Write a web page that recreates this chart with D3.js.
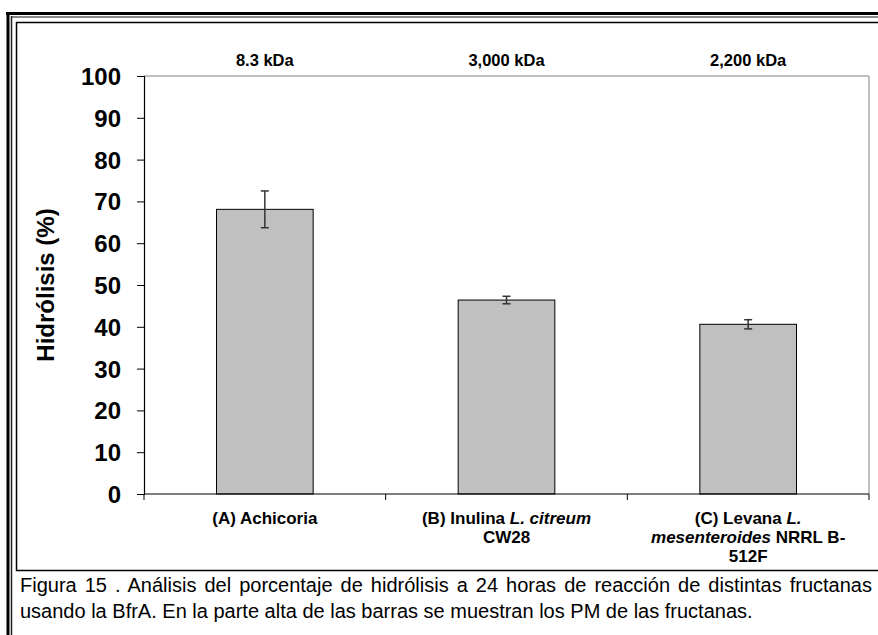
<!DOCTYPE html>
<html>
<head>
<meta charset="utf-8">
<script src="https://cdn.jsdelivr.net/npm/d3@7"></script>
<style>
  html, body { margin: 0; padding: 0; background: #fff; }
  svg { display: block; }
</style>
</head>
<body>
<svg id="fig" width="878" height="635"></svg>
<script>
// Hydrolysis (%) after 24 h of BfrA reaction on different fructans
const categories = ["A", "B", "C"];
const categoryLines = [
  [[{ t: "(A) Achicoria" }]],
  [[{ t: "(B) Inulina " }, { t: "L. citreum", i: true }], [{ t: "CW28" }]],
  [[{ t: "(C) Levana " }, { t: "L.", i: true }],
   [{ t: "mesenteroides", i: true }, { t: " NRRL B-" }],
   [{ t: "512F" }]]
];
const hydrolysis = [68.1, 46.4, 40.6];
const errors = [4.4, 0.9, 1.1];
const molecularWeights = ["8.3 kDa", "3,000 kDa", "2,200 kDa"];
const yTicks = [0, 10, 20, 30, 40, 50, 60, 70, 80, 90, 100];
const yTitle = "Hidrólisis (%)";
const captionLines = [
  "Figura 15 . Análisis del porcentaje de hidrólisis a 24 horas de reacción de distintas fructanas",
  "usando la BfrA. En la parte alta de las barras se muestran los PM de las fructanas."
];

const FONT = "'Liberation Sans', Arial, Helvetica, sans-serif";
const svg = d3.select("#fig");

// Page frame: heavy outer rule with a thin companion, and the inner figure box
const frame = svg.append("g");
frame.append("line").attr("x1", 6).attr("x2", 878).attr("y1", 13.5).attr("y2", 13.5)
  .attr("stroke", "#000").attr("stroke-width", 3);
frame.append("line").attr("x1", 8).attr("x2", 8).attr("y1", 12).attr("y2", 635)
  .attr("stroke", "#000").attr("stroke-width", 3);
frame.append("line").attr("x1", 11).attr("x2", 878).attr("y1", 17).attr("y2", 17)
  .attr("stroke", "#888").attr("stroke-width", 2);
frame.append("line").attr("x1", 11.5).attr("x2", 11.5).attr("y1", 16).attr("y2", 635)
  .attr("stroke", "#222").attr("stroke-width", 1.5);
frame.append("path").attr("d", "M880,22.5 H16.5 V570.5 H880")
  .attr("fill", "none").attr("stroke", "#000").attr("stroke-width", 1.5);

// Plot area
const plot = { left: 144, right: 869, top: 76, bottom: 494 };

const x = d3.scaleBand().domain(categories).range([plot.left, plot.right])
  .paddingInner(0.6).paddingOuter(0.3);
const xb = d3.scaleBand().domain(categories).range([plot.left, plot.right]);
const y = d3.scaleLinear().domain([0, 100]).range([plot.bottom, plot.top]);

const g = svg.append("g");

// plot area outline (top and right)
g.append("path")
  .attr("d", `M${plot.left},${plot.top} H${plot.right} V${plot.bottom}`)
  .attr("fill", "none").attr("stroke", "#808080").attr("stroke-width", 1);

// bars
g.selectAll("rect.bar").data(categories).join("rect")
  .attr("class", "bar")
  .attr("x", d => x(d))
  .attr("width", x.bandwidth())
  .attr("y", (d, i) => y(hydrolysis[i]))
  .attr("height", (d, i) => y(0) - y(hydrolysis[i]))
  .attr("fill", "#c0c0c0").attr("stroke", "#000").attr("stroke-width", 1);

// error bars
const eb = g.selectAll("g.err").data(categories).join("g").attr("class", "err")
  .attr("stroke", "#333").attr("stroke-width", 1.5);
eb.append("line")
  .attr("x1", d => x(d) + x.bandwidth() / 2).attr("x2", d => x(d) + x.bandwidth() / 2)
  .attr("y1", (d, i) => y(hydrolysis[i] + errors[i]))
  .attr("y2", (d, i) => y(hydrolysis[i] - errors[i]));
eb.append("line")
  .attr("x1", d => x(d) + x.bandwidth() / 2 - 4).attr("x2", d => x(d) + x.bandwidth() / 2 + 4)
  .attr("y1", (d, i) => y(hydrolysis[i] + errors[i]))
  .attr("y2", (d, i) => y(hydrolysis[i] + errors[i]));
eb.append("line")
  .attr("x1", d => x(d) + x.bandwidth() / 2 - 4).attr("x2", d => x(d) + x.bandwidth() / 2 + 4)
  .attr("y1", (d, i) => y(hydrolysis[i] - errors[i]))
  .attr("y2", (d, i) => y(hydrolysis[i] - errors[i]));

// y axis
const yAxis = g.append("g").attr("transform", `translate(${plot.left},0)`)
  .call(d3.axisLeft(y).tickValues(yTicks).tickSize(7).tickPadding(16));
yAxis.select(".domain").attr("stroke", "#000").attr("stroke-width", 1.2);
yAxis.selectAll(".tick line").attr("stroke", "#000").attr("stroke-width", 1);
yAxis.selectAll(".tick text")
  .attr("font-family", FONT).attr("font-size", 24).attr("font-weight", "bold")
  .attr("fill", "#000").attr("dy", "0.35em");

// x axis: boundary ticks between categories
const boundaries = categories.map(c => xb(c)).concat([plot.right]);
g.append("line").attr("x1", plot.left).attr("x2", plot.right)
  .attr("y1", plot.bottom).attr("y2", plot.bottom)
  .attr("stroke", "#000").attr("stroke-width", 1.2);
g.selectAll("line.xt").data(boundaries).join("line").attr("class", "xt")
  .attr("x1", d => d).attr("x2", d => d)
  .attr("y1", plot.bottom).attr("y2", plot.bottom + 6)
  .attr("stroke", "#000").attr("stroke-width", 1);

// category labels
categories.forEach((c, i) => {
  const cx = xb(c) + xb.bandwidth() / 2;
  categoryLines[i].forEach((line, j) => {
    const t = g.append("text")
      .attr("x", cx).attr("y", 524 + j * 19)
      .attr("text-anchor", "middle")
      .attr("font-family", FONT).attr("font-size", 17).attr("font-weight", "bold")
      .attr("fill", "#000");
    line.forEach(seg => {
      t.append("tspan").text(seg.t).attr("font-style", seg.i ? "italic" : "normal");
    });
  });
});

// molecular weight labels above bars
g.selectAll("text.mw").data(categories).join("text").attr("class", "mw")
  .attr("x", d => x(d) + x.bandwidth() / 2).attr("y", 66)
  .attr("text-anchor", "middle")
  .attr("font-family", FONT).attr("font-size", 16.5).attr("font-weight", "bold")
  .attr("fill", "#000")
  .text((d, i) => molecularWeights[i]);

// y title
g.append("text")
  .attr("transform", `translate(54,${(plot.top + plot.bottom) / 2}) rotate(-90)`)
  .attr("text-anchor", "middle")
  .attr("font-family", FONT).attr("font-size", 24).attr("font-weight", "bold")
  .attr("fill", "#000")
  .text(yTitle);

// caption (first line justified)
const capLeft = 20, capRight = 872;
captionLines.forEach((line, i) => {
  const t = svg.append("text")
    .attr("x", capLeft).attr("y", 592 + i * 26)
    .attr("font-family", FONT).attr("font-size", 20)
    .attr("fill", "#000")
    .text(line);
  if (i === 0) {
    const len = t.node().getComputedTextLength();
    const spaces = (line.match(/ /g) || []).length;
    t.attr("word-spacing", (capRight - capLeft - len) / spaces);
  }
});
</script>
</body>
</html>
